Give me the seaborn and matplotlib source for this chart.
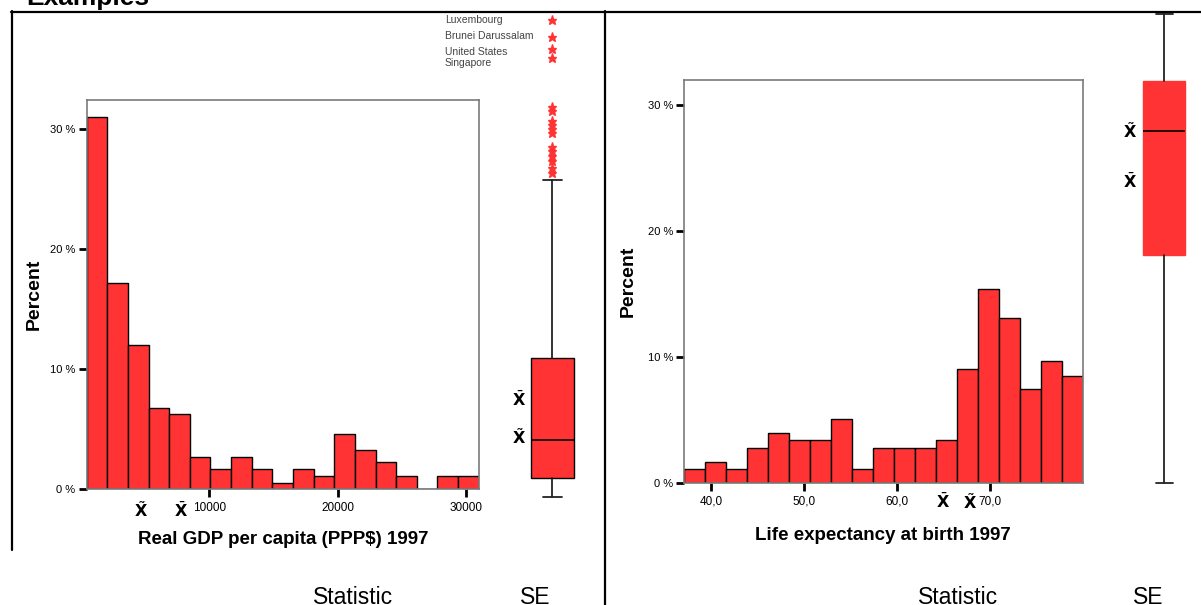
import matplotlib
matplotlib.use("Agg")
import matplotlib.pyplot as plt
from matplotlib.lines import Line2D
import seaborn as sns

# --------------------------------------------------------------------
# data
# --------------------------------------------------------------------
# left: Real GDP per capita (PPP$) 1997
gdp_edges = [448, 2056, 3663, 5271, 6878, 8486, 10093, 11701, 13308, 14916,
             16523, 18131, 19738, 21346, 22953, 24561, 26168, 27776, 29383, 30990]
gdp_pct = [31.0, 17.2, 12.0, 6.8, 6.3, 2.7, 1.7, 2.7, 1.7, 0.5,
           1.7, 1.1, 4.6, 3.3, 2.3, 1.1, 0.0, 1.1, 1.1]
gdp_ticks = [10000, 20000, 30000]
gdp_tick_labels = ["10000", "20000", "30000"]
gdp_median_mark = 4679
gdp_mean_mark = 7795

# box: min, q1, median, q3, upper whisker
gdp_box = [410, 1624, 4050, 9266, 20617]
gdp_mean = 6667
gdp_outliers = [21095, 21414, 21862, 22181, 22500, 22787,
                23649, 23904, 24160, 24415, 25054, 25290]
gdp_extremes = [30863, 29773, 29010, 28460]
gdp_extreme_names = ["Luxembourg", "Brunei Darussalam", "United States", "Singapore"]

# right: Life expectancy at birth 1997
life_edges = [37.10, 39.35, 41.61, 43.86, 46.12, 48.37, 50.63, 52.88, 55.14, 57.39,
              59.65, 61.90, 64.16, 66.41, 68.67, 70.92, 73.18, 75.43, 77.69, 79.94]
life_pct = [1.1, 1.7, 1.1, 2.8, 4.0, 3.4, 3.4, 5.1, 1.1, 2.8,
            2.8, 2.8, 3.4, 9.1, 15.4, 13.1, 7.5, 9.7, 8.5]
life_ticks = [40, 50, 60, 70]
life_tick_labels = ["40,0", "50,0", "60,0", "70,0"]
life_mean_mark = 64.9
life_median_mark = 67.8

life_box = [37.2, 58.0, 69.3, 73.9, 80.0]
life_mean = 64.7

pct_ticks = [0, 10, 20, 30]
pct_tick_labels = ["0 %", "10 %", "20 %", "30 %"]

# --------------------------------------------------------------------
# style / layout
# --------------------------------------------------------------------
W, H = 1201, 605
RED = "#ff3333"
SPINE = "#7a7a7a"
XBAR = r"$\bar{\mathbf{X}}$"
XTILDE = r"$\tilde{\mathbf{X}}$"

sns.set_style("white")
plt.rcParams["font.family"] = ["Liberation Sans", "DejaVu Sans"]
plt.rcParams["mathtext.fontset"] = "dejavusans"
for key in ["text.color", "axes.labelcolor", "xtick.color", "ytick.color"]:
    plt.rcParams[key] = "black"


def rect(x0, y0, x1, y1):
    return [x0 / W, 1 - y1 / H, (x1 - x0) / W, (y1 - y0) / H]


def fx(x):
    return x / W


def fy(y):
    return 1 - y / H


fig = plt.figure(figsize=(W / 100, H / 100), dpi=100)


def hist_panel(pos, edges, pct, xlim, ylim, ticks, tick_labels):
    ax = fig.add_axes(pos)
    centers = [(a + b) / 2 for a, b in zip(edges[:-1], edges[1:])]
    sns.histplot(x=centers, weights=pct, bins=edges, ax=ax, color=RED,
                 edgecolor="black", linewidth=1.0, alpha=1.0)
    ax.set_xlim(*xlim)
    ax.set_ylim(*ylim)
    ax.set_xticks(ticks)
    ax.set_xticklabels(tick_labels)
    ax.set_yticks(pct_ticks)
    ax.set_yticklabels(pct_tick_labels)
    ax.set_xlabel("")
    ax.set_ylabel("")
    for s in ax.spines.values():
        s.set_color(SPINE)
        s.set_linewidth(1.2)
    ax.tick_params(axis="both", which="both", direction="out", color="black",
                   width=2, length=6, labelsize=8, pad=2, bottom=True, left=True)
    ax.tick_params(axis="x", labelsize=8.5, pad=3)
    ax.set_facecolor("none")
    return ax


def box_panel(pos, xlim, ylim, stats, center, width, capw, edge, fliers=None):
    ax = fig.add_axes(pos)
    d = dict(whislo=stats[0], q1=stats[1], med=stats[2], q3=stats[3],
             whishi=stats[4], fliers=fliers if fliers is not None else [])
    ax.bxp([d], positions=[center], widths=[width], capwidths=[capw],
           patch_artist=True, showfliers=True,
           boxprops=dict(facecolor=RED, edgecolor=edge, linewidth=1.0),
           medianprops=dict(color="black", linewidth=1.2),
           whiskerprops=dict(color="#222222", linewidth=1.3),
           capprops=dict(color="#222222", linewidth=1.3),
           flierprops=dict(marker="*", markersize=6.5, markerfacecolor=RED,
                           markeredgecolor=RED, linestyle="none"))
    ax.set_xlim(*xlim)
    ax.set_ylim(*ylim)
    ax.axis("off")
    return ax


# ---- left histogram
axl = hist_panel(rect(86.7, 100, 478.7, 489.3), gdp_edges, gdp_pct,
                 (448, 30990), (0, 32.4), gdp_ticks, gdp_tick_labels)
for v, s in [(gdp_median_mark, XTILDE), (gdp_mean_mark, XBAR)]:
    axl.text(v, -0.053, s, transform=axl.get_xaxis_transform(),
             ha="center", va="center", fontsize=11.5)

# ---- left box plot
axbl = box_panel(rect(500, 11, 600, 505), (0, 100), (-100, 31438), gdp_box,
                 52.3, 43.3, 19.3, "black", fliers=gdp_outliers + gdp_extremes)
axbl.text(19, gdp_mean, XBAR, ha="center", va="center", fontsize=11.5)
axbl.text(19, gdp_box[2] + 200, XTILDE, ha="center", va="center", fontsize=11.5)
name_y = [30863, 29850, 28801, 28137]
for name, yv in zip(gdp_extreme_names, name_y):
    axbl.text(-55, yv, name, ha="left", va="center", fontsize=7.5, color="#444444",
              clip_on=False)

# ---- right histogram
axr = hist_panel(rect(684.3, 80, 1082.7, 483.3), life_edges, life_pct,
                 (37.10, 79.94), (0, 32.0), life_ticks, life_tick_labels)
for v, s in [(life_mean_mark, XBAR), (life_median_mark, XTILDE)]:
    axr.text(v, -0.046, s, transform=axr.get_xaxis_transform(),
             ha="center", va="center", fontsize=11.5)

# ---- right box plot
axbr = box_panel(rect(1100, 11, 1201, 505), (0, 101), (35.16, 80.27), life_box,
                 64.2, 41.7, 17, RED)
axbr.text(30, life_box[2], XTILDE, ha="center", va="center", fontsize=11.5)
axbr.text(30, life_mean, XBAR, ha="center", va="center", fontsize=11.5)

# ---- axis titles
fig.text(fx(34), fy(294), "Percent", rotation=90, ha="center", va="center",
         fontsize=14, fontweight="bold")
fig.text(fx(628), fy(281), "Percent", rotation=90, ha="center", va="center",
         fontsize=14, fontweight="bold")
fig.text(fx(283), fy(540), "Real GDP per capita (PPP$) 1997", ha="center", va="center",
         fontsize=13.5, fontweight="bold")
fig.text(fx(883), fy(535), "Life expectancy at birth 1997", ha="center", va="center",
         fontsize=13.5, fontweight="bold")

# ---- slide frame and texts
fig.text(fx(26), fy(5), "Examples", ha="left", va="baseline",
         fontsize=19, fontweight="bold")
for x, txt in [(353, "Statistic"), (535, "SE"), (958, "Statistic"), (1148, "SE")]:
    fig.text(fx(x), fy(604), txt, ha="center", va="baseline", fontsize=16.5)

frame = [((11, 1201), (11.5, 11.5)), ((11.5, 11.5), (11, 550)), ((605, 605), (11, 605))]
for xs, ys in frame:
    fig.add_artist(Line2D([fx(xs[0]), fx(xs[1])], [fy(ys[0]), fy(ys[1])],
                          color="black", linewidth=1.6))

fig.savefig("out.png", dpi=100)
